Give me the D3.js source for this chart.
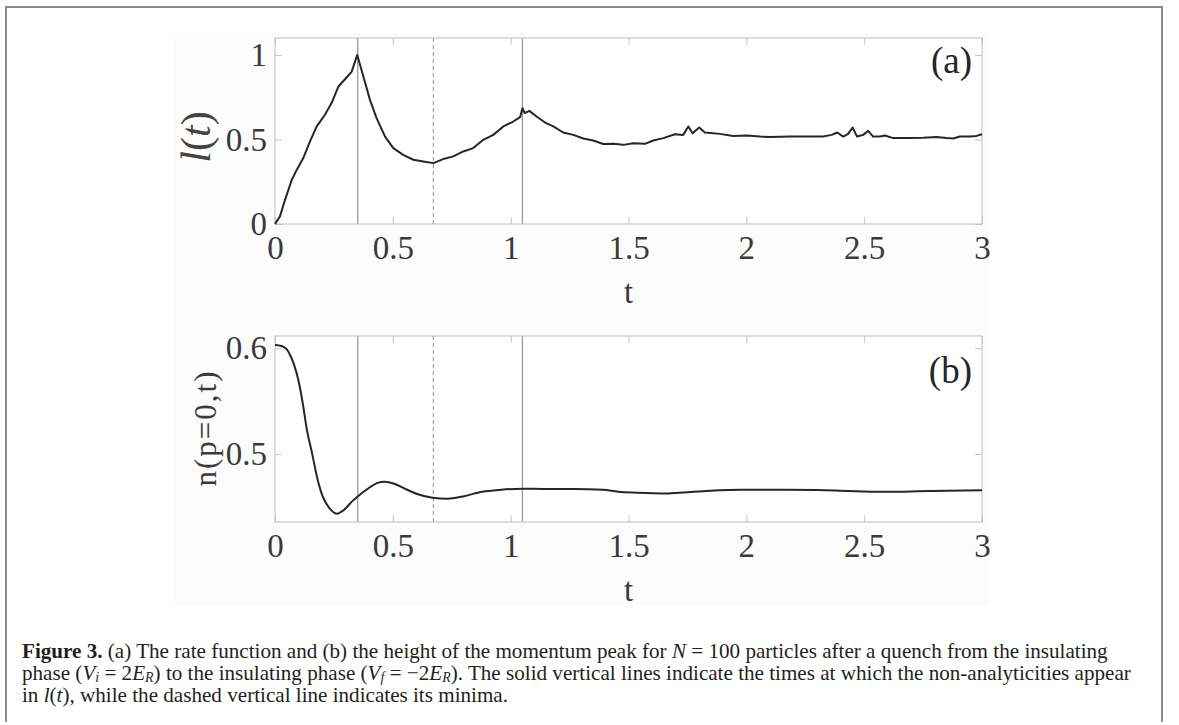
<!DOCTYPE html>
<html><head><meta charset="utf-8">
<script src="https://cdn.jsdelivr.net/npm/d3@7"></script>
<style>body{margin:0;background:#fff;} svg{display:block;}</style>
</head><body>
<svg id="c" width="1179" height="725"></svg>
<script>
// ---------- data ----------
const tA = [0,0.021,0.042,0.071,0.092,0.12,0.149,0.177,0.212,0.24,0.269,0.297,0.325,0.349,0.375,0.403,0.431,0.467,0.502,0.544,0.587,0.629,0.672,0.714,0.757,0.799,0.841,0.884,0.926,0.969,1.011,1.04,1.05,1.06,1.068,1.079,1.11,1.146,1.181,1.223,1.266,1.308,1.35,1.393,1.435,1.478,1.52,1.57,1.605,1.648,1.697,1.732,1.754,1.772,1.80,1.824,1.888,1.944,2.001,2.058,2.10,2.185,2.27,2.326,2.362,2.386,2.411,2.432,2.451,2.47,2.496,2.517,2.538,2.567,2.588,2.623,2.68,2.751,2.807,2.85,2.878,2.906,2.949,2.977,3.0];
const lA = [0,0.045,0.14,0.26,0.32,0.39,0.49,0.577,0.646,0.715,0.813,0.856,0.90,1.0,0.872,0.734,0.626,0.517,0.449,0.409,0.38,0.37,0.36,0.384,0.40,0.429,0.449,0.498,0.527,0.577,0.606,0.632,0.685,0.656,0.662,0.669,0.636,0.60,0.577,0.541,0.527,0.506,0.494,0.473,0.474,0.468,0.478,0.474,0.494,0.508,0.531,0.527,0.577,0.537,0.571,0.541,0.533,0.521,0.523,0.517,0.514,0.517,0.517,0.517,0.527,0.541,0.517,0.533,0.571,0.517,0.527,0.551,0.517,0.517,0.523,0.508,0.508,0.51,0.514,0.508,0.506,0.517,0.517,0.521,0.531];
const tB = [0,0.02,0.035,0.05,0.064,0.08,0.099,0.12,0.133,0.157,0.181,0.205,0.23,0.262,0.294,0.327,0.351,0.392,0.433,0.465,0.506,0.554,0.603,0.668,0.733,0.798,0.879,0.96,1.05,1.139,1.27,1.39,1.456,1.537,1.667,1.716,1.83,1.976,2.122,2.3,2.43,2.576,2.722,2.852,3.0];
const nB = [0.6031,0.6025,0.6015,0.599,0.5937,0.585,0.5701,0.545,0.526,0.501,0.4758,0.4585,0.4491,0.4437,0.4475,0.4553,0.46,0.467,0.4726,0.4739,0.472,0.467,0.4623,0.4588,0.4578,0.46,0.4644,0.4663,0.4673,0.467,0.467,0.4663,0.4644,0.4635,0.4628,0.4635,0.4651,0.4663,0.4663,0.466,0.4651,0.4644,0.4648,0.4654,0.4657];
const xTicks = [0,0.5,1,1.5,2,2.5,3];
const xTickLabels = ["0","0.5","1","1.5","2","2.5","3"];
const yTicksA = [0,0.5,1];
const yTickLabelsA = ["0","0.5","1"];
const yTicksB = [0.5,0.6];
const yTickLabelsB = ["0.5","0.6"];
const solidLines = [0.351,1.05];
const dashedLines = [0.672];
const domainT = [0,3];
const domainA = [0,1.1];
const domainB = [0.4358,0.6116];
const panelLabels = ["(a)","(b)"];
const xLabel = "t";
const captionLines = [
  [["Figure 3.","b"],[" (a) The rate function and (b) the height of the momentum peak for ",""],["N","i"],[" = 100 particles after a quench from the insulating",""]],
  [["phase (",""],["V","i"],["i","isub"],[" = 2",""],["E","i"],["R","isub"],[") to the insulating phase (",""],["V","i"],["f","isub"],[" = \u22122",""],["E","i"],["R","isub"],["). The solid vertical lines indicate the times at which the non-analyticities appear",""]],
  [["in ",""],["l","i"],["(",""],["t","i"],["), while the dashed vertical line indicates its minima.",""]]
];

// ---------- layout ----------
const svg = d3.select("#c");
const FONT = "'Liberation Serif','Times New Roman',serif";
const L = 275, R = 982;
const panels = [
  {top:38, bottom:224, domain:domainA, t:tA, v:lA, yt:yTicksA, ytl:yTickLabelsA, curve:d3.curveLinear, lblY:73, xlabY:303},
  {top:336, bottom:522, domain:domainB, t:tB, v:nB, yt:yTicksB, ytl:yTickLabelsB, curve:d3.curveMonotoneX, lblY:383, xlabY:601}
];

// outer frame + faint figure background
svg.append("rect").attr("x",175).attr("y",33).attr("width",815).attr("height",573).attr("fill","#fcfcfc");
svg.append("path").attr("d","M6,722 V7 H1162 V722").attr("fill","none").attr("stroke","#8c8c8c").attr("stroke-width",2);

const x = d3.scaleLinear().domain(domainT).range([L,R]);

panels.forEach((p,pi)=>{
  const y = d3.scaleLinear().domain(p.domain).range([p.bottom,p.top]);
  const g = svg.append("g");
  g.append("rect").attr("x",L).attr("y",p.top).attr("width",R-L).attr("height",p.bottom-p.top).attr("fill","#fff");

  // vertical marker lines
  g.selectAll(".vs").data(solidLines).join("line")
    .attr("x1",d=>x(d)).attr("x2",d=>x(d)).attr("y1",p.top).attr("y2",p.bottom)
    .attr("stroke","#9a9a9a").attr("stroke-width",1.3);
  g.selectAll(".vd").data(dashedLines).join("line")
    .attr("x1",d=>x(d)).attr("x2",d=>x(d)).attr("y1",p.top).attr("y2",p.bottom)
    .attr("stroke","#9a9a9a").attr("stroke-width",1.1).attr("stroke-dasharray","4,3");

  // axes
  const ax = (axis, tr) => {
    const a = g.append("g").attr("transform",tr).call(axis);
    a.select(".domain").remove();
    a.selectAll(".tick line").attr("stroke","#c4c4c4").attr("stroke-width",1);
    a.selectAll(".tick text").attr("font-family",FONT).attr("font-size",33).attr("fill","#3a3a3a");
    return a;
  };
  ax(d3.axisBottom(x).tickValues(xTicks).tickFormat((d,i)=>xTickLabels[i]).tickSize(-7).tickPadding(12), `translate(0,${p.bottom})`);
  ax(d3.axisTop(x).tickValues(xTicks).tickFormat("").tickSize(-7), `translate(0,${p.top})`);
  ax(d3.axisLeft(y).tickValues(p.yt).tickFormat((d,i)=>p.ytl[i]).tickSize(-7).tickPadding(8), `translate(${L},0)`);
  ax(d3.axisRight(y).tickValues(p.yt).tickFormat("").tickSize(-7), `translate(${R},0)`);

  // frame
  g.append("rect").attr("x",L).attr("y",p.top).attr("width",R-L).attr("height",p.bottom-p.top)
    .attr("fill","none").attr("stroke","#bdbdbd").attr("stroke-width",1);

  // data line
  const pts = p.t.map((t,i)=>[t,p.v[i]]);
  g.append("path").datum(pts)
    .attr("d", d3.line().x(d=>x(d[0])).y(d=>y(d[1])).curve(p.curve))
    .attr("fill","none").attr("stroke","#262626").attr("stroke-width",2).attr("stroke-linejoin","round");

  // panel label
  g.append("text").attr("x",972).attr("y",p.lblY).attr("text-anchor","end")
    .attr("font-family",FONT).attr("font-size",37).attr("fill","#262626").text(panelLabels[pi]);
  // x label
  g.append("text").attr("x",(L+R)/2).attr("y",p.xlabY).attr("text-anchor","middle")
    .attr("font-family",FONT).attr("font-size",33).attr("fill","#3a3a3a").text(xLabel);
});

// y labels
const yl1 = svg.append("text").attr("transform","translate(197,137) rotate(-90)")
  .attr("text-anchor","middle").attr("dy","0.3em")
  .attr("font-family",FONT).attr("font-size",42).attr("fill","#444");
yl1.append("tspan").attr("font-style","italic").text("l");
yl1.append("tspan").text("(");
yl1.append("tspan").attr("font-style","italic").text("t");
yl1.append("tspan").text(")");

svg.append("text").attr("transform","translate(207,429) rotate(-90)")
  .attr("text-anchor","middle").attr("dy","0.3em")
  .attr("font-family",FONT).attr("font-size",31).attr("fill","#3a3a3a")
  .attr("textLength",115).attr("lengthAdjust","spacing")
  .text("n(p=0,t)");

// caption
const capBase = [658,680,702];
const capTexts = captionLines.map((segs,li)=>{
  const t = svg.append("text").attr("x",22).attr("y",capBase[li])
    .attr("font-family",FONT).attr("font-size",18).attr("fill","#231f20");
  let inSub = false;
  segs.forEach(([s,st])=>{
    const ts = t.append("tspan").text(s);
    if(st==="b") ts.attr("font-weight","bold");
    if(st==="i"||st==="isub") ts.attr("font-style","italic");
    if(st==="isub"){ ts.attr("font-size","0.66em"); if(!inSub) ts.attr("dy",2); inSub = true; }
    else { if(inSub) ts.attr("dy",-2); inSub = false; }
  });
  return t;
});
const w2 = capTexts[1].node().getComputedTextLength();
const fs = 18*1109/w2;
capTexts.forEach(t=>t.attr("font-size",fs));
</script>
</body></html>
